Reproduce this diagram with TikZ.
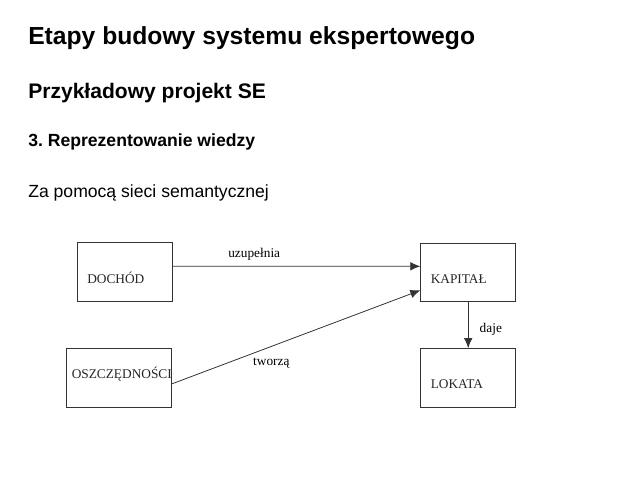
\documentclass[tikz,border=0pt]{standalone}
\usepackage{fontspec}
\setmainfont{Liberation Serif}
\newfontfamily\headfont{Liberation Sans}
\usetikzlibrary{arrows.meta}
\frenchspacing

\tikzset{
  box/.style = {draw = black!80, line width = 0.6pt, minimum width = 71.25pt,
                minimum height = 44pt, inner sep = 0pt},
  boxtext/.style = {anchor = base west, inner sep = 0pt, text = black!85},
  arr/.style = {draw = black!80, line width = 0.6pt, -{Latex[length=7.5pt,width=6.5pt]}},
  head/.style = {anchor = base west, inner sep = 0pt, font = \headfont}
}

\begin{document}
\begin{tikzpicture}[x = 0.75pt, y = -0.75pt, font = \fontsize{10}{12}\selectfont]
        \useasboundingbox (0,0) rectangle (640,480);

        \node[head, font = \headfont\bfseries\fontsize{18.5}{22}\selectfont] (tytul) at (28,44) {Etapy budowy systemu ekspertowego};
        \node[head, font = \headfont\bfseries\fontsize{15.8}{19}\selectfont] (projekt) at (28,98) {Przykładowy projekt SE};
        \node[head, font = \headfont\bfseries\fontsize{13.2}{16}\selectfont] (etap) at (28,146) {3. Reprezentowanie wiedzy};
        \node[head, font = \headfont\fontsize{13.2}{16}\selectfont] (metoda) at (28,197) {Za pomocą sieci semantycznej};

        \node[box] (dochod) at (124.5,272.2) {};
        \node[box, minimum width = 78.75pt] (oszcz) at (119.2,377.8) {};
        \node[box] (kapital) at (468.2,272.3) {};
        \node[box] (lokata) at (468.2,377.8) {};

        \node[boxtext] (dochod-t) at (87,283) {DOCHÓD};
        \node[boxtext] (oszcz-t) at (71.5,378) {OSZCZĘDNOŚCI};
        \node[boxtext] (kapital-t) at (430.5,283) {KAPITAŁ};
        \node[boxtext] (lokata-t) at (430.5,388) {LOKATA};

        \draw[arr]
        ([yshift = 4.5pt]dochod.east) -- node[pos = 0.33, above = 1pt]{uzupełnia}
        ([yshift = 4.5pt]kapital.west);

        \draw[arr]
        ([yshift = -4.5pt]oszcz.east) -- node[pos = 0.4, below = 5pt]{tworzą}
        ([yshift = -13.5pt]kapital.west);

        \draw[arr]
        (kapital.south) -- node[pos = 0.6, right = 5pt]{daje}
        (lokata.north);
    \end{tikzpicture}
\end{document}
